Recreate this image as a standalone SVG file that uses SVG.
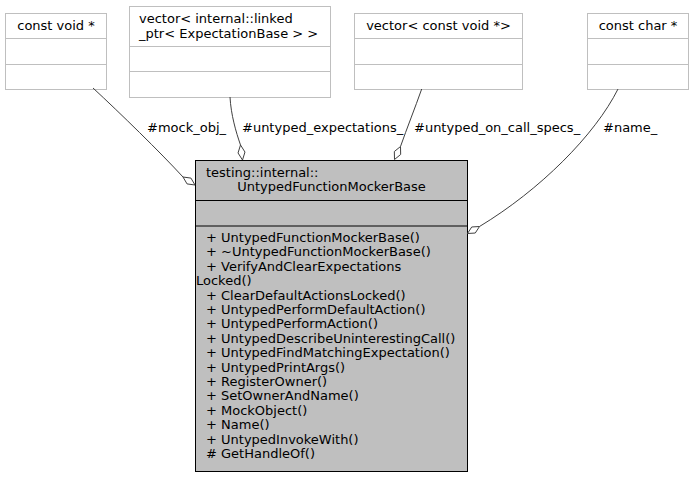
<svg xmlns="http://www.w3.org/2000/svg" width="692" height="477" viewBox="0 0 692 477">
<style>
text{font-family:"DejaVu Sans","Liberation Sans",sans-serif;font-size:13px;fill:#000}
.c{text-anchor:middle}
.box{fill:#fff;stroke:#bfbfbf;stroke-width:1}
.main{fill:#bfbfbf;stroke:#000;stroke-width:1}
.edge{fill:none;stroke:#404040;stroke-width:1}
.dia{fill:#fff;stroke:#404040;stroke-width:1}
</style>
<rect width="692" height="477" fill="#fff"/>
<g id="node_const_void">
<rect class="box" x="5.5" y="13.5" width="101" height="76"/>
<line class="box" x1="5.5" y1="38.5" x2="106.5" y2="38.5"/>
<line class="box" x1="5.5" y1="64.5" x2="106.5" y2="64.5"/>
<text class="c" x="56" y="30">const void *</text>
</g>
<g id="node_vector_linked">
<rect class="box" x="129.5" y="6.5" width="201" height="91"/>
<line class="box" x1="129.5" y1="46.5" x2="330.5" y2="46.5"/>
<line class="box" x1="129.5" y1="71.5" x2="330.5" y2="71.5"/>
<text x="139" y="23">vector&lt; internal::linked</text>
<text x="139" y="38">_ptr&lt; ExpectationBase &gt; &gt;</text>
</g>
<g id="node_vector_const_void">
<rect class="box" x="354.5" y="13.5" width="168" height="76"/>
<line class="box" x1="354.5" y1="38.5" x2="522.5" y2="38.5"/>
<line class="box" x1="354.5" y1="64.5" x2="522.5" y2="64.5"/>
<text class="c" x="438.5" y="30">vector&lt; const void *&gt;</text>
</g>
<g id="node_const_char">
<rect class="box" x="587.5" y="13.5" width="101" height="76"/>
<line class="box" x1="587.5" y1="38.5" x2="688.5" y2="38.5"/>
<line class="box" x1="587.5" y1="64.5" x2="688.5" y2="64.5"/>
<text class="c" x="638" y="30">const char *</text>
</g>
<g id="node_main">
<rect class="main" x="195.5" y="160.5" width="272" height="311"/>
<line class="main" x1="195.5" y1="200.5" x2="467.5" y2="200.5"/>
<line class="main" x1="195.5" y1="226" x2="467.5" y2="226"/>
<text x="206" y="177">testing::internal::</text>
<text class="c" x="331.5" y="190.5">UntypedFunctionMockerBase</text>
<text x="206" y="242">+ UntypedFunctionMockerBase()</text>
<text x="206" y="256.4">+ ~UntypedFunctionMockerBase()</text>
<text x="206" y="270.8">+ VerifyAndClearExpectations</text>
<text x="196" y="285.2">Locked()</text>
<text x="206" y="299.6">+ ClearDefaultActionsLocked()</text>
<text x="206" y="314">+ UntypedPerformDefaultAction()</text>
<text x="206" y="328.4">+ UntypedPerformAction()</text>
<text x="206" y="342.8">+ UntypedDescribeUninterestingCall()</text>
<text x="206" y="357.2">+ UntypedFindMatchingExpectation()</text>
<text x="206" y="371.6">+ UntypedPrintArgs()</text>
<text x="206" y="386">+ RegisterOwner()</text>
<text x="206" y="400.4">+ SetOwnerAndName()</text>
<text x="206" y="414.8">+ MockObject()</text>
<text x="206" y="429.2">+ Name()</text>
<text x="206" y="443.6">+ UntypedInvokeWith()</text>
<text x="206" y="458">#  GetHandleOf()</text>
</g>
<g id="connectors">
<path class="edge" d="M93,88 C120,113 160,152 183,177"/>
<polygon class="dia" points="183,177 190.94,178.09 195,185 187.06,183.91"/>
<text x="147" y="132">#mock_obj_</text>
<path class="edge" d="M230,97 C231,115 236,132 240.5,145"/>
<polygon class="dia" points="240.5,145 244.97,152.04 242.5,160 238.03,152.96"/>
<text x="242" y="132">#untyped_expectations_</text>
<path class="edge" d="M421.7,89 C415,108 407,128 400.5,146.5"/>
<polygon class="dia" points="400.5,146.5 400.67,154.48 394.5,159.5 394.33,151.52"/>
<text x="414" y="132">#untyped_on_call_specs_</text>
<path class="edge" d="M618,89 C595,135 540,190 479.5,226.5"/>
<polygon class="dia" points="479.5,226.5 475.26,233.02 467.5,233.5 471.74,226.98"/>
<text x="603" y="132">#name_</text>
</g>
</svg>
